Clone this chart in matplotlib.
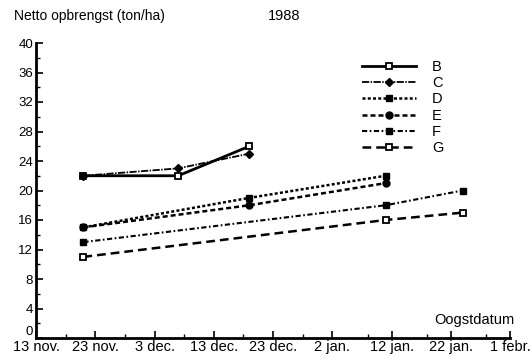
import matplotlib
matplotlib.use("Agg")
import matplotlib.pyplot as plt
import matplotlib.dates as mdates
import pandas as pd

plt.rcParams['font.family'] = ['Liberation Sans', 'DejaVu Sans']

# ---- data ----
dates_B = ["1987-11-21", "1987-12-07", "1987-12-19"]
vals_B = [22, 22, 26]
dates_C = ["1987-11-21", "1987-12-07", "1987-12-19"]
vals_C = [22, 23, 25]
dates_D = ["1987-11-21", "1987-12-19", "1988-01-11"]
vals_D = [15, 19, 22]
dates_E = ["1987-11-21", "1987-12-19", "1988-01-11"]
vals_E = [15, 18, 21]
dates_F = ["1987-11-21", "1988-01-11", "1988-01-24"]
vals_F = [13, 18, 20]
dates_G = ["1987-11-21", "1988-01-11", "1988-01-24"]
vals_G = [11, 16, 17]

tick_dates = ["1987-11-13", "1987-11-23", "1987-12-03", "1987-12-13", "1987-12-23",
              "1988-01-02", "1988-01-12", "1988-01-22", "1988-02-01"]
tick_labels = ["13 nov.", "23 nov.", "3 dec.", "13 dec.", "23 dec.",
               "2 jan.", "12 jan.", "22 jan.", "1 febr."]
y_ticks = [0, 4, 8, 12, 16, 20, 24, 28, 32, 36, 40]

fig = plt.figure(figsize=(5.32, 3.63), dpi=100)
ax = fig.add_axes([36/532, 1-338/363, (510-36)/532, (338-43)/363])

def d(lst):
    return pd.to_datetime(lst)

ax.plot(d(dates_B), vals_B, color='black', lw=2.0, ls='-', marker='s', ms=4.5,
        mfc='white', mec='black', mew=1.3, label='B')
ax.plot(d(dates_C), vals_C, color='black', lw=1.3, ls=(0, (4, 0.8, 0.8, 0.8)), marker='D', ms=4,
        mfc='black', mec='black', label='C')
ax.plot(d(dates_D), vals_D, color='black', lw=1.8, ls=(0, (1.2, 0.9)), marker='s', ms=5,
        mfc='black', mec='black', label='D')
ax.plot(d(dates_E), vals_E, color='black', lw=1.8, ls=(0, (2, 1.2)), marker='o', ms=5,
        mfc='black', mec='black', label='E')
ax.plot(d(dates_F), vals_F, color='black', lw=1.5, ls=(0, (2.5, 1.2, 0.8, 1.2)), marker='s', ms=5,
        mfc='black', mec='black', label='F')
ax.plot(d(dates_G), vals_G, color='black', lw=1.8, ls=(0, (3.5, 2)), marker='s', ms=4.5,
        mfc='white', mec='black', mew=1.3, label='G')

ax.set_xlim(pd.Timestamp("1987-11-13"), pd.Timestamp("1988-02-01"))
ax.set_ylim(0, 40)
ax.set_xticks(d(tick_dates))
ax.set_xticklabels(tick_labels, fontsize=10.5)
ax.set_yticks(y_ticks)
ylabels = ax.set_yticklabels([str(v) for v in y_ticks], fontsize=9.5)
ylabels[0].set_va('bottom')
ax.set_yticks(list(range(2, 40, 4)), minor=True)
ax.xaxis.set_minor_locator(mdates.DayLocator(bymonthday=[8, 18, 28]))

ax.tick_params(axis='both', which='major', direction='in', length=5, width=1.2, color='black', pad=2)
ax.tick_params(axis='both', which='minor', direction='in', length=3, width=1.0, color='black')
ax.tick_params(axis='x', pad=1.5)

for s in ['top', 'right']:
    ax.spines[s].set_visible(False)
for s in ['left', 'bottom']:
    ax.spines[s].set_linewidth(2)
    ax.spines[s].set_color('black')

leg = ax.legend(loc='upper left', bbox_to_anchor=(0.675, 0.962), frameon=False,
                fontsize=10.5, handlelength=3.7, handletextpad=1.1, labelspacing=0.15,
                borderaxespad=0)

fig.text(14/532, 1-16/363, "Netto opbrengst (ton/ha)", fontsize=10, va='center', ha='left')
fig.text(268/532, 1-16/363, "1988", fontsize=10.5, va='center', ha='left')
ax.text(1.01, 0.06, "Oogstdatum", transform=ax.transAxes, fontsize=10.5, ha='right', va='center')

fig.savefig("out.png", dpi=100)
